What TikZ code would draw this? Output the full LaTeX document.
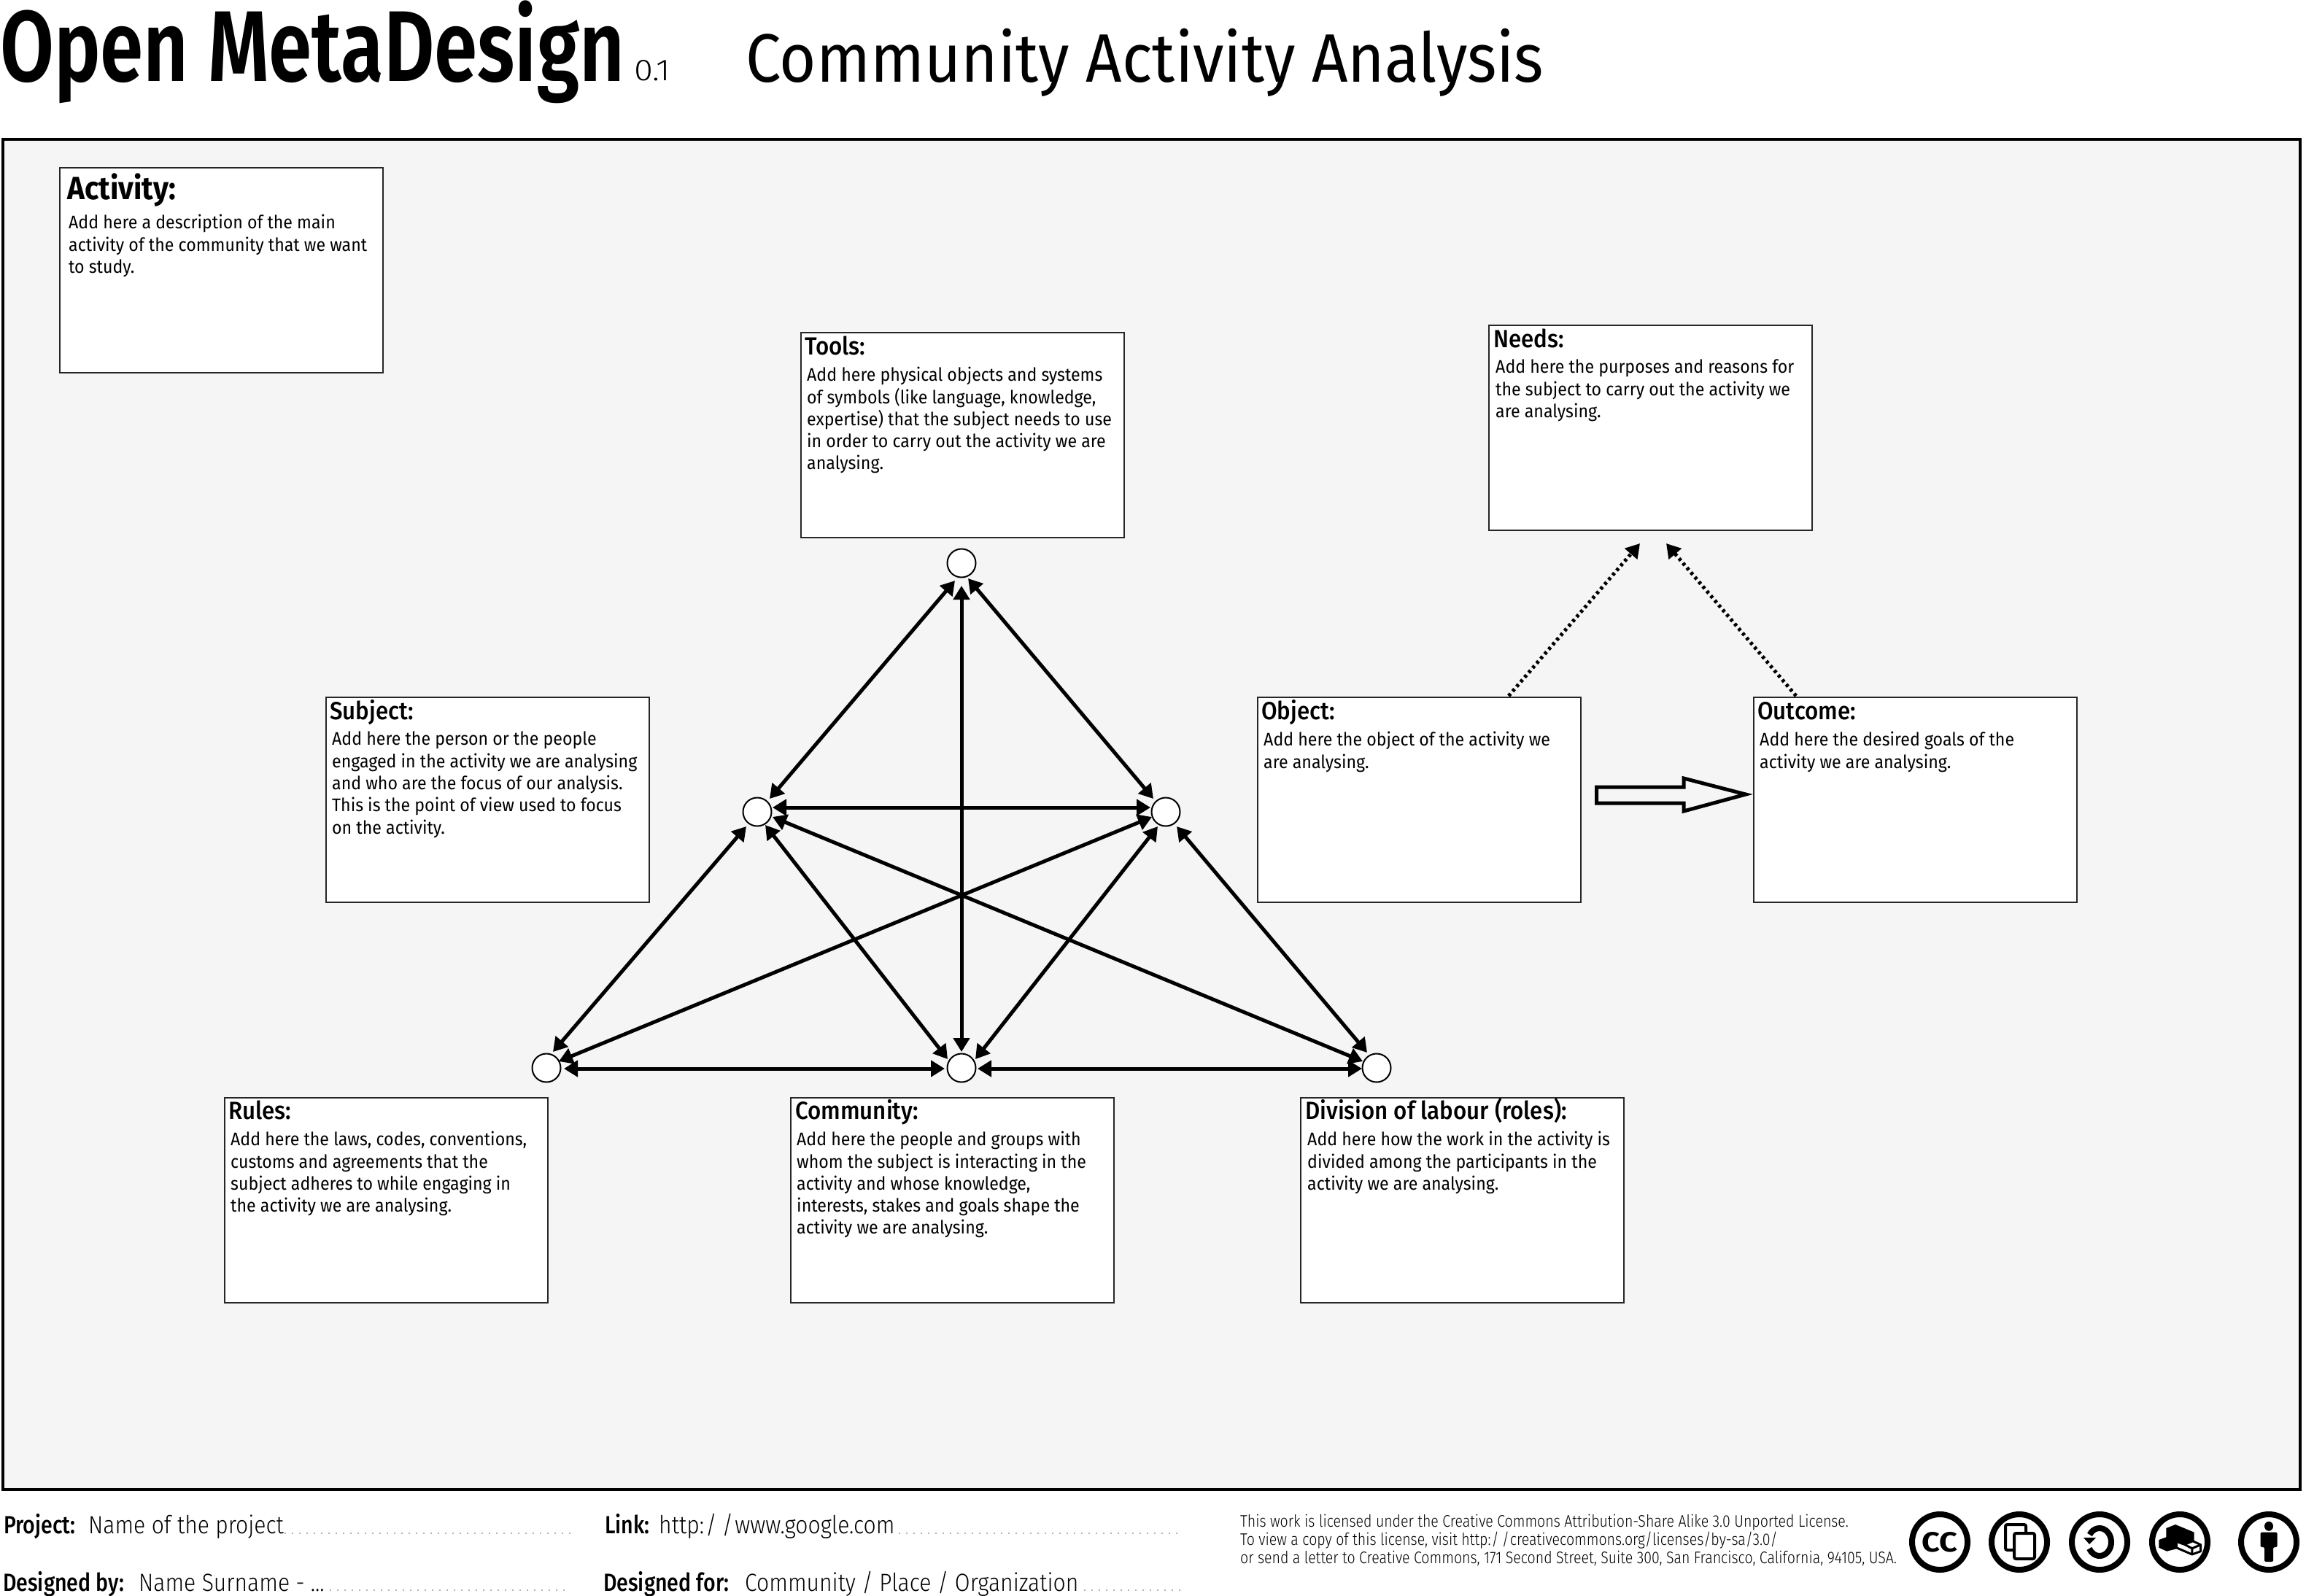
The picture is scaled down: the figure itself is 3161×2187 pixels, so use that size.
\documentclass[tikz,border=0pt]{standalone}
\usepackage{fontspec}
\usetikzlibrary{arrows.meta}
\setmainfont{Fira Sans}[FakeStretch=0.927]
\newfontfamily\brandfont{Fira Sans SemiBold}[FakeStretch=0.92]
\newfontfamily\titlefont{Fira Sans}[FakeStretch=0.92]
\newfontfamily\headfont{Fira Sans Medium}[FakeStretch=0.92]
\newfontfamily\iconfont{Fira Sans Bold}[FakeStretch=0.92]
\newfontfamily\footfont{Fira Sans Light}[FakeStretch=0.885]
\newfontfamily\footbold{Fira Sans Medium}[FakeStretch=0.84]
\newfontfamily\licfont{Fira Sans Light}[FakeStretch=0.85]
\definecolor{panel}{HTML}{F5F5F5}
\tikzset{
 infobox/.style={draw=black!85,line width=2pt,fill=white,inner sep=0pt,minimum width=443pt,minimum height=281pt,anchor=north west},
 boxhead/.style={inner sep=0pt,anchor=base west,font=\fontsize{34}{34}\selectfont\headfont},
 boxbody/.style={inner sep=0pt,anchor=north west,align=left,font=\fontsize{25}{30.3}\selectfont},
 hub/.style={circle,draw=black,line width=2pt,fill=white,minimum size=39pt,inner sep=0pt},
 link/.style={line width=5pt,{Triangle[length=19pt,width=22pt]}-{Triangle[length=19pt,width=22pt]}},
 need/.style={line width=5pt,dash pattern=on 4pt off 4.4pt,-{Triangle[length=19pt,width=22pt]}},
 footlab/.style={inner sep=0pt,anchor=base west,font=\fontsize{34}{34}\selectfont\footbold},
 footval/.style={inner sep=0pt,anchor=base west,font=\fontsize{34}{34}\selectfont\footfont},
 licline/.style={inner sep=0pt,anchor=base west,font=\fontsize{23}{25}\selectfont\licfont},
 footdots/.style={line width=2pt,gray!60,dash pattern=on 2pt off 8pt},
 badge/.style={circle,draw=black,line width=8pt,fill=white,minimum size=76pt,inner sep=0pt}
}
\begin{document}
\begin{tikzpicture}[x=1pt,y=-1pt]
\useasboundingbox (0,0) rectangle (3161,2187);
\fill[white] (0,0) rectangle (3161,2187);
\node[inner sep=0pt,anchor=north west] (brand) at (0,1) {\resizebox*{856pt}{141pt}{\fontsize{100}{100}\selectfont\brandfont Open MetaDesign}};
\node[inner sep=0pt,anchor=base west] (ver) at (869,110) {\resizebox{50pt}{28pt}{\fontsize{40}{40}\selectfont\footfont 0.1}};
\node[inner sep=0pt,anchor=base west] (title) at (1022,112) {\resizebox{1094pt}{!}{\fontsize{90}{90}\selectfont\titlefont Community Activity Analysis}};
\node[draw=black,line width=4pt,fill=panel,inner sep=0pt,minimum width=3149pt,minimum height=1851pt,anchor=north west] (panel) at (2,188.5) {};
% boxes
\node[infobox] (activity) at (81,228.5) {};
\node[boxhead,font=\fontsize{44}{44}\selectfont\iconfont] (activityh) at (92,273) {Activity:};
\node[boxbody] (activityb) at (94,294) {Add here a description of the main\\activity of the community that we want\\to study.};
\node[infobox] (tools) at (1097,454.5) {};
\node[boxhead] (toolsh) at (1103,486) {Tools:};
\node[boxbody] (toolsb) at (1106,503) {Add here physical objects and systems\\of symbols (like language, knowledge,\\expertise) that the subject needs to use\\in order to carry out the activity we are\\analysing.};
\node[infobox] (needs) at (2040,445) {};
\node[boxhead] (needsh) at (2047,476) {Needs:};
\node[boxbody] (needsb) at (2050,493) {Add here the purposes and reasons for\\the subject to carry out the activity we\\are analysing.};
\node[infobox] (subject) at (446,955) {};
\node[boxhead] (subjecth) at (452,986) {Subject:};
\node[boxbody] (subjectb) at (455,1003) {Add here the person or the people\\engaged in the activity we are analysing\\and who are the focus of our analysis.\\This is the point of view used to focus\\on the activity.};
\node[infobox] (object) at (1723,955) {};
\node[boxhead] (objecth) at (1729,986) {Object:};
\node[boxbody] (objectb) at (1732,1003) {Add here the object of the activity we\\are analysing.};
\node[infobox] (outcome) at (2403,955) {};
\node[boxhead] (outcomeh) at (2409,986) {Outcome:};
\node[boxbody] (outcomeb) at (2412,1003) {Add here the desired goals of the\\activity we are analysing.};
\node[infobox] (rules) at (307,1503.5) {};
\node[boxhead] (rulesh) at (313,1534) {Rules:};
\node[boxbody] (rulesb) at (316,1551) {Add here the laws, codes, conventions,\\customs and agreements that the\\subject adheres to while engaging in\\the activity we are analysing.};
\node[infobox] (community) at (1083,1503.5) {};
\node[boxhead] (communityh) at (1090,1534) {Community:};
\node[boxbody] (communityb) at (1092,1551) {Add here the people and groups with\\whom the subject is interacting in the\\activity and whose knowledge,\\interests, stakes and goals shape the\\activity we are analysing.};
\node[infobox] (division) at (1782,1503.5) {};
\node[boxhead] (divisionh) at (1789,1534) {Division of labour (roles):};
\node[boxbody] (divisionb) at (1792,1551) {Add here how the work in the activity is\\divided among the participants in the\\activity we are analysing.};
% hubs
\node[hub] (ht) at (1318,772) {};
\node[hub] (hl) at (1038,1113) {};
\node[hub] (hr) at (1598,1113) {};
\node[hub] (hru) at (749,1464) {};
\node[hub] (hc) at (1318,1464) {};
\node[hub] (hd) at (1887,1464) {};
% links
\draw[link] ([shift={(-9,24)}]ht.center) -- ([shift={(17,-18)}]hl.center);
\draw[link] ([shift={(9,21)}]ht.center) -- ([shift={(-17,-18)}]hr.center);
\draw[link] ([shift={(0,31)}]ht.center) -- ([shift={(0,-22)}]hc.center);
\draw[link] ([shift={(21,-6)}]hl.center) -- ([shift={(-21,-6)}]hr.center);
\draw[link] ([shift={(11,18)}]hl.center) -- ([shift={(-19,-12)}]hc.center);
\draw[link] ([shift={(-11,20)}]hr.center) -- ([shift={(19,-12)}]hc.center);
\draw[link] ([shift={(21,7)}]hl.center) -- ([shift={(-19,-9)}]hd.center);
\draw[link] ([shift={(-19,7)}]hr.center) -- ([shift={(17,-9)}]hru.center);
\draw[link] ([shift={(-15,20)}]hl.center) -- ([shift={(9,-22)}]hru.center);
\draw[link] ([shift={(15,20)}]hr.center) -- ([shift={(-13,-21)}]hd.center);
\draw[link] ([shift={(24,1)}]hru.center) -- ([shift={(-23,1)}]hc.center);
\draw[link] ([shift={(22,1)}]hc.center) -- ([shift={(-20,1)}]hd.center);
% needs
\coordinate (needl) at (2248,745);
\coordinate (needr) at (2284,745);
\draw[need] ([shift={(345,-1)}]object.north west) -- (needl);
\draw[need] ([shift={(59,-1)}]outcome.north west) -- (needr);
% block arrow
\draw[line width=5pt,miter limit=6] (2188.5,1079) -- (2308,1079) -- (2308,1067) -- (2393,1089) -- (2308,1112) -- (2308,1101) -- (2188.5,1101) -- cycle;
% footer
\node[footlab] (fp) at (5,2102) {Project:};
\node[footval] (fpv) at (121,2102) {Name of the project};
\draw[footdots] (390,2102) -- (782,2102);
\node[footlab] (fl) at (829,2102) {Link:};
\node[footval] (flv) at (903,2102) {http:\kern2pt/\kern7pt/\kern2pt www.google.com};
\draw[footdots] (1232,2102) -- (1618,2102);
\node[footlab] (fd) at (4,2181) {Designed by:};
\node[footval] (fdv) at (190,2181) {Name Surname - ...};
\draw[footdots] (452,2180) -- (782,2180);
\node[footlab] (ff) at (827,2181) {Designed for:};
\node[footval] (ffv) at (1021,2181) {Community / Place / Organization};
\draw[footdots] (1486,2180) -- (1618,2180);
\node[licline] (l1) at (1700,2093) {This work is licensed under the Creative Commons Attribution-Share Alike 3.0 Unported License.};
\node[licline] (l2) at (1700,2118) {To view a copy of this license, visit http:\kern1pt/\kern4pt/\kern1pt creativecommons.org/licenses/by-sa/3.0/};
\node[licline] (l3) at (1700,2143) {or send a letter to Creative Commons, 171 Second Street, Suite 300, San Francisco, California, 94105, USA.};
% badges
\node[badge] (b1) at (2659,2114) {\resizebox{49pt}{27pt}{\fontsize{40}{40}\selectfont\iconfont CC}};
\node[badge] (b2) at (2768,2114) {};
\node[badge] (b3) at (2878,2114) {};
\node[badge] (b4) at (2988,2114) {};
\node[badge] (b5) at (3110,2114) {};
% share icon
\begin{scope}[shift={(b2.center)},line width=4pt,rounded corners=2.5pt]
 \draw[fill=white] (-19,-24) rectangle (9,11);
 \draw[fill=white] (-7,-12) rectangle (21,23);
\end{scope}
% remix icon
\draw[line width=8pt] ([shift={(148:16pt and 19pt)}]b3.center) arc[start angle=148,end angle=-152,x radius=16pt,y radius=19pt];
\begin{scope}[shift={(b3.center)}]
 \fill (-22,-6) -- (-5,-6) -- (-14,3) -- cycle;
\end{scope}
% building blocks icon
\begin{scope}[shift={(b4.center)}]
 \fill (-18.6,-19) -- (-6,-24) -- (19.7,-13.3) -- (19.7,1) -- (6,3) -- (-4.7,-0.7) -- (-4.7,9.3) -- (-17.9,12.7) -- (-28.6,7.7) -- (-28.6,-3) -- (-18.6,-6.7) -- cycle;
 \draw[line width=3pt,line join=round,fill=white] (-4.7,-0.7) -- (6.4,3.3) -- (17.9,-1.3) -- (28.6,3.7) -- (28.6,12.7) -- (16.8,17) -- (-4.7,7.7) -- cycle;
 \draw[line width=3pt,line join=round] (6.4,3.3) -- (16.8,8.7) -- (28.6,3.7) (16.8,8.7) -- (16.8,17);
\end{scope}
% person icon
\begin{scope}[shift={(b5.center)}]
 \fill (0,-21.7) ellipse[x radius=6pt,y radius=6.5pt];
 \fill[rounded corners=1.5pt] (-11.5,-13.3) -- (11.5,-13.3) -- (11.5,7) -- (6,7) -- (6,27) -- (-6,27) -- (-6,7) -- (-11.5,7) -- cycle;
\end{scope}
\end{tikzpicture}
\end{document}
